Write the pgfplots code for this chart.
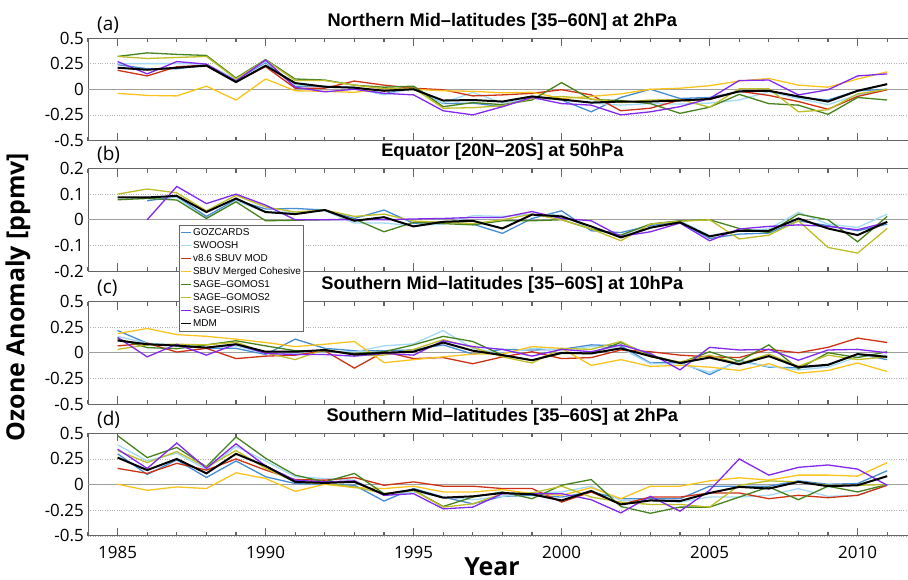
\documentclass[border=0pt]{standalone}
\usepackage{fontspec}
\setmainfont{Open Sans}
\newfontfamily\helv{Liberation Sans}
\usepackage{pgfplots}
\usepackage{pgfplotstable}
\pgfplotsset{compat=1.18}

\definecolor{cgoz}{RGB}{70,140,210}
\definecolor{cswo}{RGB}{165,218,245}
\definecolor{cmod}{RGB}{205,50,20}
\definecolor{ccoh}{RGB}{250,195,30}
\definecolor{cg1}{RGB}{70,130,30}
\definecolor{cg2}{RGB}{190,190,40}
\definecolor{cosi}{RGB}{130,40,240}
\definecolor{axgray}{RGB}{100,100,100}

\newcommand\tickfont{\fontsize{17}{17}\selectfont}
\newcommand\titlefont{\helv\bfseries\fontsize{18.3}{18.3}\selectfont}
\newcommand\tagfont{\fontsize{19}{19}\selectfont}
\newcommand\labfont{\bfseries\fontsize{25}{25}\selectfont}
\newcommand\legfont{\helv\fontsize{10}{10}\selectfont}

\newcommand\yearticks[2]{%
  \pgfplotsinvokeforeach{1984,1985,...,2012}{%
    \draw[axgray, line width=1.1bp] (axis cs:##1,#2) -- ++(0bp,-4bp);
    \draw[axgray, line width=1.1bp] (axis cs:##1,#1) -- ++(0bp,4bp);
  }%
  \pgfplotsinvokeforeach{1985,1990,...,2010}{%
    \draw[axgray, line width=1.1bp] (axis cs:##1,#2) -- ++(0bp,-8bp);
    \draw[axgray, line width=1.1bp] (axis cs:##1,#1) -- ++(0bp,8bp);
  }%
}

\pgfplotstableread{
year goz swo mod coh g1 g2 osi mdm
1985 0.24 0.25 0.185 -0.04 0.32 0.32 0.27 0.21
1986 0.20 0.25 0.13 -0.06 0.355 0.30 0.15 0.19
1987 0.20 0.25 0.22 -0.065 0.34 0.31 0.27 0.21
1988 0.235 0.245 0.235 0.03 0.33 0.32 0.245 0.23
1989 0.09 0.10 0.075 -0.105 0.11 0.10 0.08 0.07
1990 0.26 0.27 0.22 0.10 0.29 0.285 0.285 0.23
1991 0.03 0.04 0.01 -0.015 0.10 0.085 0.02 0.06
1992 0.025 0.03 0.01 -0.02 0.09 0.085 -0.025 0.025
1993 0.02 0.01 0.08 -0.03 0.04 0.04 0.0 0.015
1994 -0.045 -0.055 0.04 0.01 0.02 0.005 -0.04 -0.015
1995 0.02 0.01 0.01 0.0 0.03 0.01 -0.055 0.0
1996 -0.14 -0.135 -0.005 -0.015 -0.17 -0.185 -0.21 -0.11
1997 -0.135 -0.03 -0.065 -0.02 -0.13 -0.18 -0.25 -0.105
1998 -0.17 -0.135 -0.055 -0.035 -0.15 -0.16 -0.17 -0.12
1999 -0.07 -0.09 -0.04 -0.03 -0.105 -0.09 -0.08 -0.07
2000 -0.105 -0.10 -0.005 -0.09 0.065 -0.07 -0.14 -0.10
2001 -0.22 -0.135 -0.055 -0.07 -0.10 -0.095 -0.155 -0.13
2002 -0.08 -0.155 -0.21 -0.045 -0.11 -0.13 -0.25 -0.12
2003 0.0 -0.14 -0.185 0.0 -0.14 -0.105 -0.22 -0.12
2004 -0.09 -0.145 -0.105 0.01 -0.235 -0.10 -0.17 -0.11
2005 -0.08 -0.135 -0.10 0.035 -0.175 -0.175 -0.09 -0.095
2006 -0.025 -0.105 -0.02 0.08 -0.05 0.005 0.085 -0.02
2007 -0.015 -0.025 -0.06 0.105 -0.14 0.005 0.09 -0.015
2008 -0.08 -0.09 -0.12 0.04 -0.155 -0.22 -0.055 -0.07
2009 -0.105 -0.15 -0.195 0.02 -0.245 -0.20 -0.005 -0.12
2010 -0.015 -0.055 -0.07 0.10 -0.08 -0.045 0.13 -0.015
2011 0.0 -0.005 -0.005 0.17 -0.105 0.0 0.15 0.05
}\tabA

\pgfplotstableread{
year goz swo g1 g2 osi mdm
1985 nan nan 0.078 0.10 nan 0.087
1986 0.074 0.087 0.083 0.12 0.0 0.087
1987 0.09 0.087 0.077 0.105 0.13 0.093
1988 0.013 0.005 0.005 0.035 0.063 0.03
1989 0.078 0.074 0.07 0.095 0.10 0.083
1990 0.042 0.03 -0.004 0.05 0.057 0.03
1991 0.044 0.03 -0.002 0.03 0.0 0.022
1992 0.038 0.035 0.0 0.038 0.0 0.038
1993 0.005 -0.013 0.003 0.013 0.0 -0.004
1994 0.038 -0.013 -0.047 0.022 0.0 0.01
1995 -0.014 -0.023 -0.01 -0.005 0.003 -0.026
1996 -0.008 -0.017 -0.015 -0.01 0.005 -0.008
1997 -0.017 0.016 -0.02 -0.015 0.009 -0.004
1998 -0.053 0.013 -0.004 0.0 0.009 -0.034
1999 0.005 0.022 -0.004 0.022 0.032 0.02
2000 0.035 0.018 0.0 0.0 0.005 0.013
2001 -0.043 -0.036 -0.036 -0.036 -0.004 -0.026
2002 -0.05 -0.062 -0.06 -0.082 -0.065 -0.069
2003 -0.023 -0.017 -0.017 -0.017 -0.047 -0.031
2004 -0.008 -0.004 -0.004 -0.006 -0.013 -0.01
2005 -0.073 -0.062 0.0 0.0 -0.082 -0.065
2006 -0.056 -0.043 -0.034 -0.075 -0.036 -0.043
2007 -0.052 -0.036 -0.05 -0.06 -0.026 -0.043
2008 -0.004 0.029 0.022 -0.004 -0.02 0.005
2009 -0.023 -0.017 0.0 -0.108 -0.026 -0.034
2010 -0.043 -0.03 -0.086 -0.13 -0.039 -0.06
2011 -0.017 0.022 0.013 -0.034 -0.01 -0.008
}\tabB

\pgfplotstableread{
year goz swo mod coh g1 g2 osi mdm
1985 0.217 0.16 0.067 0.187 0.137 0.033 0.15 0.12
1986 0.093 0.093 0.093 0.237 0.05 0.077 -0.04 0.083
1987 0.067 0.077 0.007 0.177 0.04 0.083 0.083 0.07
1988 0.043 0.053 0.043 0.16 0.077 0.077 -0.023 0.05
1989 0.043 0.067 -0.057 0.133 0.117 0.103 0.083 0.083
1990 -0.017 -0.007 -0.033 0.10 0.067 0.0 -0.007 0.01
1991 0.133 -0.007 -0.023 0.06 0.02 -0.067 -0.017 0.01
1992 0.043 0.01 0.02 0.083 0.02 0.033 -0.017 0.027
1993 0.02 0.01 -0.15 0.11 -0.007 -0.023 -0.033 -0.017
1994 0.02 0.067 0.01 -0.097 0.01 -0.023 -0.007 0.0
1995 0.027 0.087 -0.057 -0.067 0.077 0.033 -0.023 0.01
1996 0.077 0.217 -0.047 -0.04 0.16 0.127 0.117 0.1
1997 -0.013 0.043 -0.107 -0.013 0.11 0.053 0.06 0.02
1998 0.033 -0.007 -0.04 -0.013 -0.023 -0.04 0.033 -0.023
1999 0.027 0.043 0.01 0.06 -0.073 -0.1 -0.033 -0.073
2000 0.033 0.027 -0.057 0.043 -0.007 0.043 0.033 0.0
2001 0.077 0.06 -0.047 -0.123 -0.007 0.033 0.01 -0.007
2002 0.067 0.043 0.027 -0.067 0.1 0.11 0.077 0.043
2003 -0.1 -0.107 0.01 -0.133 -0.023 -0.04 -0.007 -0.033
2004 -0.09 -0.107 -0.023 -0.123 -0.1 -0.09 -0.167 -0.1
2005 -0.213 -0.19 -0.04 -0.14 0.01 -0.023 0.053 -0.047
2006 -0.073 -0.09 -0.047 -0.173 -0.083 -0.107 0.027 -0.113
2007 -0.14 -0.133 0.033 -0.107 0.077 -0.013 0.033 -0.033
2008 -0.147 -0.167 0.0 -0.2 -0.157 -0.133 -0.073 -0.14
2009 -0.123 -0.14 0.053 -0.173 0.0 -0.023 0.027 -0.117
2010 -0.013 -0.04 0.143 -0.1 -0.047 -0.067 0.033 -0.013
2011 -0.067 -0.023 0.1 -0.183 0.01 -0.04 0.0 -0.04
}\tabC

\pgfplotstableread{
year goz swo mod coh g1 g2 osi mdm
1985 0.30 0.388 0.158 0.003 0.477 0.332 0.345 0.263
1986 0.099 0.23 0.109 -0.056 0.263 0.214 0.158 0.141
1987 0.24 0.306 0.207 -0.023 0.362 0.322 0.405 0.25
1988 0.069 0.148 0.141 -0.039 0.174 0.168 0.158 0.109
1989 0.23 0.372 0.25 0.115 0.464 0.332 0.398 0.30
1990 0.076 0.23 0.141 0.059 0.257 0.158 0.181 0.181
1991 0.01 0.076 0.049 -0.066 0.092 0.026 0.043 0.026
1992 0.003 0.059 0.043 0.003 0.026 0.01 0.026 0.016
1993 -0.007 0.043 0.069 -0.03 0.109 -0.023 0.036 0.026
1994 -0.161 -0.105 -0.007 -0.039 -0.089 -0.089 -0.105 -0.095
1995 -0.039 -0.072 0.026 -0.016 -0.056 -0.056 -0.089 -0.049
1996 -0.122 -0.122 -0.016 -0.072 -0.214 -0.22 -0.237 -0.128
1997 -0.188 -0.148 -0.016 -0.072 -0.122 -0.188 -0.22 -0.115
1998 -0.115 -0.115 -0.039 -0.049 -0.072 -0.089 -0.089 -0.082
1999 -0.105 -0.082 -0.039 -0.089 -0.138 -0.082 -0.089 -0.095
2000 -0.122 -0.072 -0.171 -0.105 -0.007 -0.016 -0.089 -0.155
2001 -0.072 -0.016 -0.072 -0.03 0.049 -0.122 -0.148 -0.062
2002 -0.138 -0.155 -0.194 -0.138 -0.214 -0.171 -0.276 -0.194
2003 -0.138 -0.155 -0.122 -0.016 -0.28 -0.194 -0.115 -0.155
2004 -0.138 -0.171 -0.122 -0.016 -0.22 -0.194 -0.26 -0.161
2005 -0.016 -0.122 -0.082 0.036 -0.22 -0.22 -0.056 -0.082
2006 -0.016 -0.122 -0.082 0.066 -0.122 -0.007 0.25 -0.023
2007 -0.016 -0.105 -0.138 0.043 -0.023 0.036 0.092 -0.039
2008 0.036 -0.039 -0.105 0.092 -0.148 0.026 0.168 0.026
2009 0.003 -0.115 -0.128 0.092 -0.016 -0.007 0.191 -0.016
2010 0.01 -0.105 -0.105 0.082 -0.072 -0.007 0.151 -0.007
2011 0.135 -0.007 -0.007 0.214 0.0 0.0 -0.007 0.082
}\tabD

\pgfplotsset{
  panel/.style={
    width=832bp, height=102.5bp, scale only axis,
    anchor=north west,
    xmin=1984, xmax=2012.108,
    ymajorgrids,
    major grid style={dotted, draw=gray!60, line width=0.6bp},
    extra y ticks={0}, extra y tick labels={},
    extra y tick style={ymajorgrids=true, major grid style={solid, draw=gray!75, line width=0.9bp}},
    xtick={1985,1990,1995,2000,2005,2010},
    xticklabels={},
    tick align=inside,
    xtick pos=both, ytick pos=right, yticklabel pos=left,
    major tick length=8bp,
    axis line style={draw=axgray, line width=0.8bp},
    every tick/.append style={axgray, line width=1.1bp},
    yticklabel style={font=\tickfont, inner sep=0pt, xshift=-4bp},
    xticklabel style={font=\tickfont, inner sep=0pt, yshift=-10bp},
    title style={font=\titlefont, at={(0.498,1)}, anchor=base, yshift=6bp},
    clip mode=individual,
    unbounded coords=jump,
    no markers,
    every axis plot/.append style={line width=1.3bp},
  },
  halfscale/.style={ymin=-0.5, ymax=0.5, ytick={-0.5,-0.25,0,0.25,0.5},
    yticklabels={-0.5,-0.25,0,0.25,0.5}},
}

\begin{document}
\begin{tikzpicture}
\path[use as bounding box] (-88bp,38bp) rectangle (820bp,-542bp);

% (a)
\begin{axis}[panel, halfscale, at={(0bp,0bp)},
  title={Northern Mid–latitudes [35–60N] at 2hPa}]
\addplot[cgoz] table[x=year,y=goz]{\tabA};
\addplot[cswo] table[x=year,y=swo]{\tabA};
\addplot[cmod] table[x=year,y=mod]{\tabA};
\addplot[ccoh] table[x=year,y=coh]{\tabA};
\addplot[cg1] table[x=year,y=g1]{\tabA};
\addplot[cg2] table[x=year,y=g2]{\tabA};
\addplot[cosi] table[x=year,y=osi]{\tabA};
\addplot[black, line width=2bp] table[x=year,y=mdm]{\tabA};
\yearticks{-0.5}{0.5}
\end{axis}
\node[anchor=base west, font=\tagfont, inner sep=0pt] at (9bp,8bp) {(a)};

% (b)
\begin{axis}[panel, at={(0bp,-130.5bp)},
  ymin=-0.2, ymax=0.2, ytick={-0.2,-0.1,0,0.1,0.2},
  yticklabels={-0.2,-0.1,0,0.1,0.2},
  title={Equator [20N–20S] at 50hPa}]
\addplot[cgoz] table[x=year,y=goz]{\tabB};
\addplot[cswo] table[x=year,y=swo]{\tabB};
\addplot[cg1] table[x=year,y=g1]{\tabB};
\addplot[cg2] table[x=year,y=g2]{\tabB};
\addplot[cosi] table[x=year,y=osi]{\tabB};
\addplot[black, line width=2bp] table[x=year,y=mdm]{\tabB};
\yearticks{-0.2}{0.2}
\end{axis}
\node[anchor=base west, font=\tagfont, inner sep=0pt] at (9bp,-122.5bp) {(b)};

% (c)
\begin{axis}[panel, halfscale, at={(0bp,-263.5bp)},
  title={Southern Mid–latitudes [35–60S] at 10hPa},
  legend style={at={(axis description cs:0.1094,1.746)}, anchor=north west,
    draw=gray!80!black, fill=white, font=\legfont, inner sep=1.5bp,
    row sep=1bp, cells={anchor=west},
    nodes={inner sep=1bp, text height=7.5bp, text depth=2.5bp}},
  legend image code/.code={\draw[#1, line width=1.3bp] (0bp,0bp) -- (10bp,0bp);}]
\addplot[cgoz] table[x=year,y=goz]{\tabC};
\addlegendentry{GOZCARDS}
\addplot[cswo] table[x=year,y=swo]{\tabC};
\addlegendentry{SWOOSH}
\addplot[cmod] table[x=year,y=mod]{\tabC};
\addlegendentry{v8.6 SBUV MOD}
\addplot[ccoh] table[x=year,y=coh]{\tabC};
\addlegendentry{SBUV Merged Cohesive}
\addplot[cg1] table[x=year,y=g1]{\tabC};
\addlegendentry{SAGE–GOMOS1}
\addplot[cg2] table[x=year,y=g2]{\tabC};
\addlegendentry{SAGE–GOMOS2}
\addplot[cosi] table[x=year,y=osi]{\tabC};
\addlegendentry{SAGE–OSIRIS}
\addplot[black, line width=2bp] table[x=year,y=mdm]{\tabC};
\addlegendentry{MDM}
\yearticks{-0.5}{0.5}
\end{axis}
\node[anchor=base west, font=\tagfont, inner sep=0pt] at (9bp,-255.5bp) {(c)};

% (d)
\begin{axis}[panel, halfscale, at={(0bp,-395.3bp)},
  xticklabels={1985,1990,1995,2000,2005,2010},
  title={Southern Mid–latitudes [35–60S] at 2hPa}]
\addplot[cgoz] table[x=year,y=goz]{\tabD};
\addplot[cswo] table[x=year,y=swo]{\tabD};
\addplot[cmod] table[x=year,y=mod]{\tabD};
\addplot[ccoh] table[x=year,y=coh]{\tabD};
\addplot[cg1] table[x=year,y=g1]{\tabD};
\addplot[cg2] table[x=year,y=g2]{\tabD};
\addplot[cosi] table[x=year,y=osi]{\tabD};
\addplot[black, line width=2bp] table[x=year,y=mdm]{\tabD};
\yearticks{-0.5}{0.5}
\end{axis}
\node[anchor=base west, font=\tagfont, inner sep=0pt] at (9bp,-387.3bp) {(d)};

\node[rotate=90, font=\labfont, inner sep=0pt] at (-70bp,-259bp) {Ozone Anomaly [ppmv]};
\node[anchor=base, font=\labfont, inner sep=0pt] at (404bp,-537bp) {Year};
\end{tikzpicture}
\end{document}
